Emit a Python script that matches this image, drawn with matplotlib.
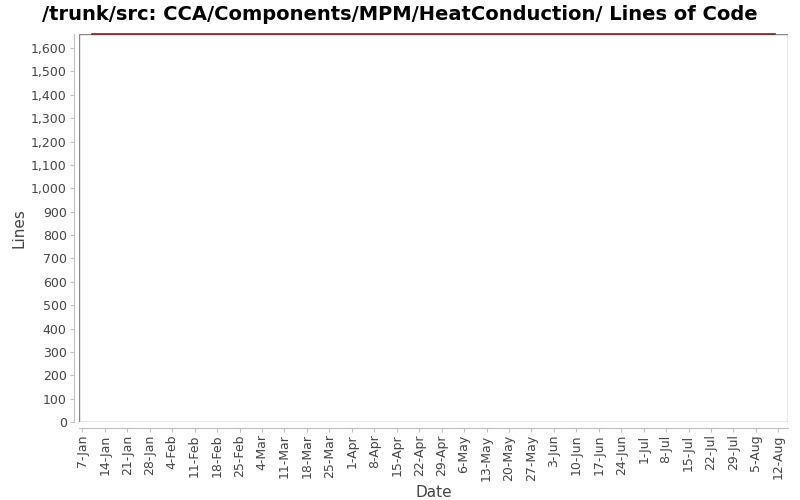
import datetime
import matplotlib
matplotlib.use("Agg")
import matplotlib.pyplot as plt
import matplotlib.dates as mdates
from matplotlib.ticker import FuncFormatter, MultipleLocator
from matplotlib.patches import Rectangle

# data
dates = [datetime.date(2007, 1, 10), datetime.date(2007, 8, 11)]
lines = [1658, 1658]
tick_start = datetime.date(2007, 1, 7)
n_ticks = 32

fig = plt.figure(figsize=(8, 5), dpi=100)
ax = fig.add_axes([0.099, 0.156, 0.886, 0.776])

# plot border
ax.add_patch(Rectangle((0, 0), 1, 1, transform=ax.transAxes, fill=False,
                       edgecolor="#888888", linewidth=1, zorder=2))
ax.plot(dates, lines, color="#8b1a1a", linewidth=1.2, clip_on=False, zorder=3)

ax.set_xlim(datetime.date(2007, 1, 5) + datetime.timedelta(hours=19 + 22),
            datetime.date(2007, 8, 14) + datetime.timedelta(hours=19 + 22))
ax.set_ylim(0, 1660)

ticks = [tick_start + datetime.timedelta(days=7 * i) for i in range(n_ticks)]
ax.set_xticks(ticks)
ax.xaxis.set_major_formatter(FuncFormatter(
    lambda v, p: "%d-%s" % (mdates.num2date(v).day, mdates.num2date(v).strftime("%b"))))
ax.yaxis.set_major_locator(MultipleLocator(100))
ax.yaxis.set_major_formatter(FuncFormatter(lambda v, p: "{:,.0f}".format(v)))

for s in ax.spines.values():
    s.set_visible(False)
# offset axis lines
ax.spines["left"].set_visible(True)
ax.spines["bottom"].set_visible(True)
ax.spines["left"].set_position(("outward", 4))
ax.spines["bottom"].set_position(("outward", 4))
ax.spines["left"].set_color("#c0c0c0")
ax.spines["bottom"].set_color("#c0c0c0")

ax.tick_params(axis="both", colors="#c0c0c0", length=3, labelcolor="#444444",
               labelsize=9, pad=2)
plt.setp(ax.get_xticklabels(), rotation=90)

ax.set_xlabel("Date", fontsize=11, color="#444444", labelpad=3)
ax.set_ylabel("Lines", fontsize=11, color="#444444", labelpad=3)
fig.suptitle("/trunk/src: CCA/Components/MPM/HeatConduction/ Lines of Code",
             fontsize=14, fontweight="bold", y=0.99)

fig.savefig("out.png")
